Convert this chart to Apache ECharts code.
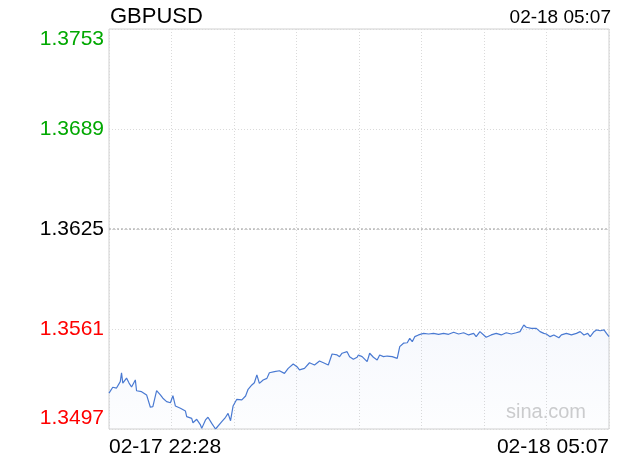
<!DOCTYPE html>
<html>
<head>
<meta charset="utf-8">
<script src="https://cdn.jsdelivr.net/npm/echarts@6/dist/echarts.min.js"></script>
<style>html,body{margin:0;padding:0;background:#fff;}#c{width:620px;height:460px;}</style>
</head>
<body>
<div id="c"></div>
<script>
const symbol = 'GBPUSD';
const lastTime = '02-18 05:07';
const startLabel = '02-17 22:28';
const endLabel = '02-18 05:07';
const yTicks = [1.3497, 1.3561, 1.3625, 1.3689, 1.3753];
const prevClose = 1.3625;
// minutes after 02-17 22:28
const minutes = [0,3,6,9,10,11,14,16,18,21,22,26,30,33,35,38,41,43,46,49,51,53,57,61,62,66,67,70,73,74,77,79,82,85,86,90,93,95,97,99,102,106,109,111,114,116,118,120,123,126,128,132,136,140,143,147,150,152,156,160,164,168,172,175,178,182,184,186,190,192,195,198,199,202,206,208,211,214,216,219,222,226,230,232,235,238,240,242,244,247,251,255,259,263,267,271,275,279,283,287,291,293,296,299,301,305,309,313,317,321,325,328,331,333,337,341,344,347,349,352,355,359,361,365,369,373,376,379,382,384,387,389,392,395,397,399];
const prices = [1.35200,1.35237,1.35232,1.35273,1.35330,1.35264,1.35296,1.35264,1.35239,1.35284,1.35215,1.35209,1.35188,1.35109,1.35113,1.35215,1.35188,1.35167,1.35145,1.35138,1.35183,1.35117,1.35103,1.35085,1.35049,1.35038,1.35010,1.35032,1.34996,1.34974,1.35028,1.35045,1.35006,1.34970,1.34978,1.35017,1.35045,1.35070,1.35023,1.35117,1.35160,1.35156,1.35181,1.35224,1.35252,1.35266,1.35316,1.35262,1.35284,1.35294,1.35330,1.35337,1.35343,1.35326,1.35358,1.35386,1.35369,1.35348,1.35358,1.35394,1.35380,1.35405,1.35391,1.35380,1.35450,1.35444,1.35433,1.35455,1.35465,1.35433,1.35416,1.35429,1.35444,1.35433,1.35401,1.35455,1.35429,1.35412,1.35444,1.35433,1.35437,1.35433,1.35422,1.35497,1.35519,1.35522,1.35550,1.35529,1.35561,1.35572,1.35582,1.35578,1.35582,1.35576,1.35582,1.35576,1.35589,1.35578,1.35586,1.35572,1.35582,1.35561,1.35593,1.35572,1.35557,1.35572,1.35582,1.35572,1.35586,1.35578,1.35586,1.35593,1.35636,1.35621,1.35614,1.35614,1.35593,1.35582,1.35578,1.35561,1.35572,1.35554,1.35572,1.35582,1.35572,1.35582,1.35593,1.35572,1.35582,1.35561,1.35593,1.35604,1.35599,1.35604,1.35582,1.35561];

const totalMin = 399;
const data = minutes.map((m, i) => [m, prices[i]]);
const prevLine = [[0, prevClose], [totalMin, prevClose]];
const FONT = '"Liberation Sans", Arial, Helvetica, sans-serif';

const chart = echarts.init(document.getElementById('c'), null, {renderer: 'canvas'});
chart.setOption({
  animation: false,
  backgroundColor: '#fff',
  grid: {left: 109, right: 11, top: 29, bottom: 31, show: true, borderColor: '#d0d0d0', borderWidth: 1, backgroundColor: 'transparent'},
  title: [
    {text: symbol, left: 110, top: 6, padding: 0, textStyle: {fontFamily: FONT, fontSize: 22, fontWeight: 'normal', color: '#000'}},
    {text: lastTime, right: 9, top: 8, padding: 0, textStyle: {fontFamily: FONT, fontSize: 19, fontWeight: 'normal', color: '#000'}}
  ],
  graphic: [
    {type: 'text', right: 34, top: 402, style: {text: 'sina.com', fontFamily: FONT, fontSize: 20, fill: '#cdcdcd'}}
  ],
  xAxis: {
    type: 'value', min: 0, max: totalMin, interval: totalMin / 8,
    axisLine: {show: false}, axisTick: {show: false},
    splitLine: {show: true, lineStyle: {color: '#dadada', type: [1, 2], width: 1}},
    axisLabel: {
      show: true, margin: 8, fontFamily: FONT, fontSize: 21, color: '#000',
      alignMinLabel: 'left', alignMaxLabel: 'right',
      formatter: v => v === 0 ? startLabel : (Math.abs(v - totalMin) < 0.01 ? endLabel : '')
    }
  },
  yAxis: {
    type: 'value', min: yTicks[0], max: yTicks[yTicks.length - 1], interval: yTicks[1] - yTicks[0],
    axisLine: {show: false}, axisTick: {show: false},
    splitLine: {show: true, lineStyle: {color: '#dadada', type: [1, 2], width: 1}},
    axisLabel: {
      margin: 5, fontFamily: FONT, fontSize: 21,
      verticalAlignMinLabel: 'bottom', verticalAlignMaxLabel: 'top',
      formatter: v => v.toFixed(4),
      color: v => (Math.abs(v - prevClose) < 1e-6 ? '#000' : (v > prevClose ? '#00a800' : '#ff0000'))
    }
  },
  series: [
    {
      type: 'line', data: prevLine, showSymbol: false, symbol: 'none', silent: true,
      lineStyle: {color: '#9a9a9a', type: [2, 2], width: 1}, z: 1
    },
    {
      type: 'line', data: data, showSymbol: false, symbol: 'none', z: 3,
      lineStyle: {color: '#4a7ad2', width: 1.2},
      areaStyle: {color: new echarts.graphic.LinearGradient(0, 0, 0, 1, [
        {offset: 0, color: 'rgba(90,130,220,0.08)'},
        {offset: 1, color: 'rgba(90,130,220,0.02)'}
      ])}
    }
  ]
});
</script>
</body>
</html>
